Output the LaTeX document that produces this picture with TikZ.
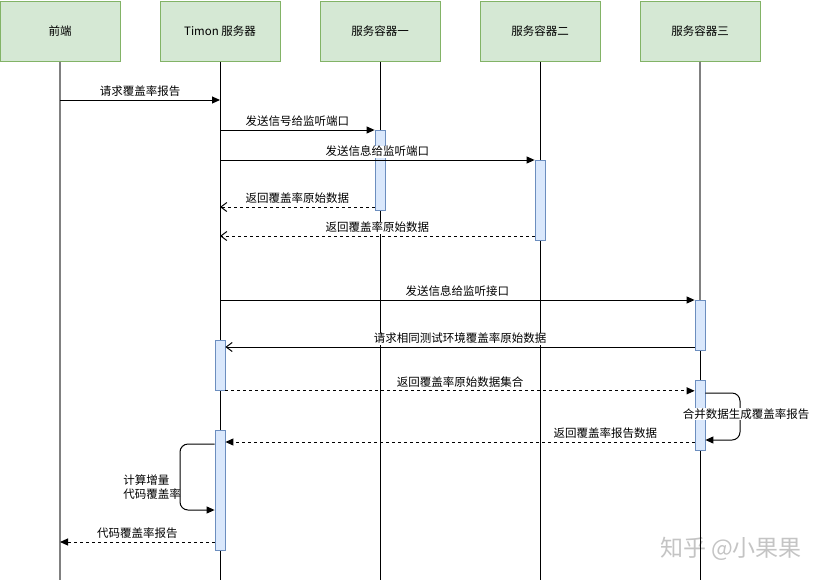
\documentclass[tikz,border=0pt]{standalone}
\usepackage{fontspec}
\setmainfont{Noto Sans CJK SC}
\usetikzlibrary{arrows.meta}
\definecolor{hdrfill}{HTML}{D5E8D4}
\definecolor{hdrline}{HTML}{82B366}
\definecolor{actfill}{HTML}{DAE8FC}
\definecolor{actline}{HTML}{6C8EBF}
\definecolor{llgrey}{HTML}{808080}
\definecolor{wmgrey}{HTML}{C4C4C4}
\begin{document}
\begin{tikzpicture}[x=1pt,y=-1pt,
  font=\fontsize{11.5}{14}\selectfont, line width=1pt,
  hdr/.style={draw=hdrline, fill=hdrfill, minimum width=120pt, minimum height=60pt, inner sep=0pt, anchor=north},
  act/.style={draw=actline, fill=actfill, minimum width=10pt, inner sep=0pt, anchor=north, line width=0.8pt},
  msg/.style={-{Triangle[length=8pt,width=7pt]}},
  ret/.style={dash pattern=on 3pt off 3pt, -{Straight Barb[length=6pt,width=9pt]}},
  dmsg/.style={dash pattern=on 3pt off 3pt, -{Triangle[length=8pt,width=7pt]}},
  lbl/.style={fill=white, inner sep=0.6pt, above=2pt}
]
\useasboundingbox (0,0) rectangle (829,582);

% watermark (beneath everything)
\node[text=wmgrey, font=\fontsize{23}{26}\selectfont, inner sep=0pt] (wm) at (731,549) {知乎 @小果果};

% headers
\node[hdr] (fe) at (60,0.5) {前端};
\node[hdr] (ts) at (220,0.5) {Timon 服务器};
\node[hdr] (c1) at (380,0.5) {服务容器一};
\node[hdr] (c2) at (540,0.5) {服务容器二};
\node[hdr] (c3) at (700,0.5) {服务容器三};

% lifeline ends
\coordinate (feE) at (60,580);
\coordinate (tsE) at (220,580);
\coordinate (c1E) at (380,580);
\coordinate (c2E) at (540,580);
\coordinate (c3E) at (700,580);

% lifelines
\draw[llgrey, line width=1.6pt] (fe.south) -- (feE);
\draw (ts.south) -- (tsE);
\draw (c1.south) -- (c1E);
\draw (c2.south) -- (c2E);
\draw (c3.south) -- (c3E);

% activations
\node[act, minimum height=80pt] (a1) at (380,130) {};
\node[act, minimum height=80pt] (a2) at (540,160) {};
\node[act, minimum height=50pt] (a3) at (700,300) {};
\node[act, minimum height=50pt] (a4) at (220,340) {};
\node[act, minimum height=70pt] (a5) at (700,380) {};
\node[act, minimum height=120pt] (a6) at (220,430) {};

\draw[llgrey, line width=1.4pt] (c3.south) -- (a3.north);

% messages
\draw[msg] (fe.south |- 0,100) -- node[lbl] (l1) {请求覆盖率报告} (ts.south |- 0,100);
\draw[msg] (ts.south |- a1.north) -- node[lbl] (l2) {发送信号给监听端口} (a1.north west);
\draw[msg] (ts.south |- a2.north) -- node[lbl] (l3) {发送信息给监听端口} (a2.north west);
\draw[ret] (a1.west |- 0,207) -- node[lbl] (l4) {返回覆盖率原始数据} (ts.south |- 0,207);
\draw[ret] (a2.west |- 0,236) -- node[lbl] (l5) {返回覆盖率原始数据} (ts.south |- 0,236);
\draw[msg] (ts.south |- a3.north) -- node[lbl] (l6) {发送信息给监听接口} (a3.north west);
\draw[-{Straight Barb[length=6pt,width=9pt]}] (a3.west |- 0,347) -- node[lbl] (l7) {请求相同测试环境覆盖率原始数据} (a4.east |- 0,347);
\draw[dmsg] (a4.south east) -- node[lbl] (l8) {返回覆盖率原始数据集合} (a5.west |- a4.south);

% self loop on container 3
\coordinate (k1) at (740,393);
\coordinate (k2) at (740,440);
\draw[msg, rounded corners=8pt] (a5.east |- k1) -- (k1) -- (k2) -- (a5.east |- k2);
\node[fill=white, inner sep=0.6pt] (l9) at (746,414) {合并数据生成覆盖率报告};

\draw[dmsg] (a5.west |- 0,442) -- node[lbl, pos=0.19] (l10) {返回覆盖率报告数据} (a6.east |- 0,442);

% self loop on Timon
\coordinate (k3) at (180,444);
\coordinate (k4) at (180,510);
\draw[msg, rounded corners=8pt] (a6.west |- k3) -- (k3) -- (k4) -- (a6.west |- k4);
\node[inner sep=0.6pt, align=left, anchor=east] (l11) at (182,487) {计算增量\\代码覆盖率};

\draw[dmsg] (a6.west |- 0,542) -- node[lbl] (l12) {代码覆盖率报告} (fe.south |- 0,542);
\end{tikzpicture}
\end{document}
